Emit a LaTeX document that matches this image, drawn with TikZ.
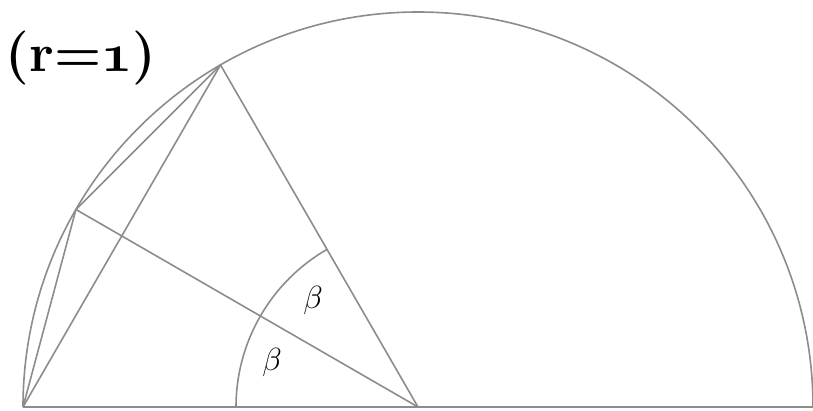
\RequirePackage{fix-cm}
\documentclass[tikz,border=0pt]{standalone}
\usetikzlibrary{calc}
\newcommand{\boldold}[1]{{\usefont{OML}{cmm}{b}{it}#1}}
\begin{document}
\begin{tikzpicture}[x=1pt,y=1pt,
  geo/.style={draw=black!45,line width=1.6pt},
  lbl/.style={font=\fontsize{32}{38}\selectfont, inner sep=0pt}]
\useasboundingbox (0,0) rectangle (813,410);
\coordinate (O) at (418,3);
\coordinate (A) at ($(O)+(180:395)$);
\coordinate (B) at ($(O)+(0:395)$);
\coordinate (P1) at ($(O)+(120:395)$);
\coordinate (P2) at ($(O)+(150:395)$);
% semicircle and diameter
\draw[geo] (B) arc[start angle=0,end angle=180,radius=395];
\draw[geo] (A) -- (B);
% chords and radii
\draw[geo] (A) -- (P1);
\draw[geo] (A) -- (P2) -- (P1);
\draw[geo] (O) -- (P1);
\draw[geo] (O) -- (P2);
% angle arc
\draw[geo] ($(O)+(180:182)$) arc[start angle=180,end angle=120,radius=182];
\node[lbl] (b1) at (313,110) {$\beta$};
\node[lbl] (b2) at (272,48) {$\beta$};
\node[font=\fontsize{54}{60}\selectfont\bfseries, inner sep=0pt] (r) at (81,352) {(r=\boldold{1})};
\end{tikzpicture}
\end{document}
